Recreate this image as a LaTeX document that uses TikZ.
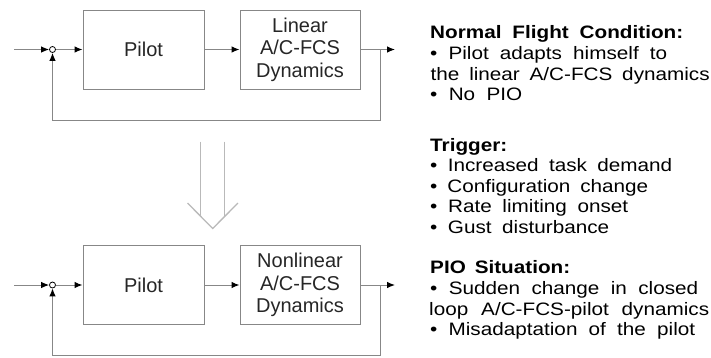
\documentclass[tikz,border=0pt]{standalone}
\usepackage{fontspec}
\setmainfont{Liberation Sans}
\usetikzlibrary{arrows.meta}
\definecolor{linegray}{RGB}{135,135,135}
\definecolor{hollowgray}{RGB}{185,185,185}
\newcommand\rline[2]{\scalebox{1.15}[1]{\makebox[\dimexpr #1pt*100/115\relax][s]{#2}}}
\begin{document}
\begin{tikzpicture}[x=1pt,y=-1pt,
  blk/.style={draw=linegray, line width=1pt, minimum width=121pt, minimum height=79pt, inner sep=0pt,
    font=\fontsize{20}{22.5}\selectfont, align=center, text=black!85},
  sig/.style={draw=linegray, line width=1pt, -{Latex[length=8pt,width=6.5pt,color=black]}},
  fb/.style={draw=linegray, line width=1pt},
  hollow/.style={draw=hollowgray, line width=1.3pt},
  sumc/.style={circle, draw=black, fill=white, line width=0.8pt, minimum size=6pt, inner sep=0pt},
  rt/.style={anchor=base west, inner sep=0pt, font=\fontsize{18}{20}\selectfont},
  rh/.style={anchor=base west, inner sep=0pt, font=\fontsize{18}{20}\selectfont\bfseries}]
\useasboundingbox (0,0) rectangle (711,357);

% ---------- top loop ----------
\coordinate (in1) at (14,49.5);
\node[sumc] (s1) at (52.5,49.5) {};
\node[blk] (p1) at (143.5,49.5) {Pilot};
\node[blk, minimum width=120pt] (d1) at (300,49.5) {Linear\\A/C-FCS\\Dynamics};
\coordinate (o1) at (395,49.5);
\coordinate (b1) at (380,49.5);
\coordinate (f1) at (380,120.5);
\coordinate (g1) at (52.5,120.5);
\draw[sig] (in1) -- (s1.west);
\draw[sig] (s1.east) -- (p1.west);
\draw[sig] (p1.east) -- (d1.west);
\draw[sig] (d1.east) -- (o1);
\draw[fb] (b1) -- (f1) -- (g1);
\draw[sig] (g1) -- (s1.south);

% ---------- bottom loop ----------
\coordinate (in2) at (14,285);
\node[sumc] (s2) at (52.5,285) {};
\node[blk] (p2) at (143.5,285) {Pilot};
\node[blk, minimum width=120pt] (d2) at (300,285) {Nonlinear\\A/C-FCS\\Dynamics};
\coordinate (o2) at (395,285);
\coordinate (b2) at (380,285);
\coordinate (f2) at (380,355.5);
\coordinate (g2) at (52.5,355.5);
\draw[sig] (in2) -- (s2.west);
\draw[sig] (s2.east) -- (p2.west);
\draw[sig] (p2.east) -- (d2.west);
\draw[sig] (d2.east) -- (o2);
\draw[fb] (b2) -- (f2) -- (g2);
\draw[sig] (g2) -- (s2.south);

% ---------- hollow transition arrow ----------
\draw[hollow] (200.7,141.7) -- (200.7,216.4);
\draw[hollow] (224.7,141.7) -- (224.7,216.4);
\draw[hollow, line join=miter] (187.5,203) -- (212.7,228.5) -- (238,203);

% ---------- right-hand text ----------
\node[rh] (r1) at (430,38.5) {\rline{253}{Normal Flight Condition:}};
\node[rt] (r2) at (430,59) {\rline{237}{• Pilot adapts himself to}};
\node[rt] (r3) at (430.5,80) {\rline{279}{the linear A/C-FCS dynamics}};
\node[rt] (r4) at (430,100.7) {\rline{92}{• No PIO}};

\node[rh] (r5) at (430,151) {\scalebox{1.15}[1]{Trigger:}};
\node[rt] (r6) at (430,171.7) {\rline{242}{• Increased task demand}};
\node[rt] (r7) at (430,192.3) {\rline{218}{• Configuration change}};
\node[rt] (r8) at (430,212.7) {\rline{198}{• Rate limiting onset}};
\node[rt] (r9) at (430,233.3) {\rline{179}{• Gust disturbance}};

\node[rh] (r10) at (430,273.3) {\rline{140}{PIO Situation:}};
\node[rt] (r11) at (430,294.3) {\rline{268}{• Sudden change in closed}};
\node[rt] (r12) at (429,315) {\rline{280}{loop A/C-FCS-pilot dynamics}};
\node[rt] (r13) at (430,335.7) {\rline{265}{• Misadaptation of the pilot}};
\end{tikzpicture}
\end{document}
